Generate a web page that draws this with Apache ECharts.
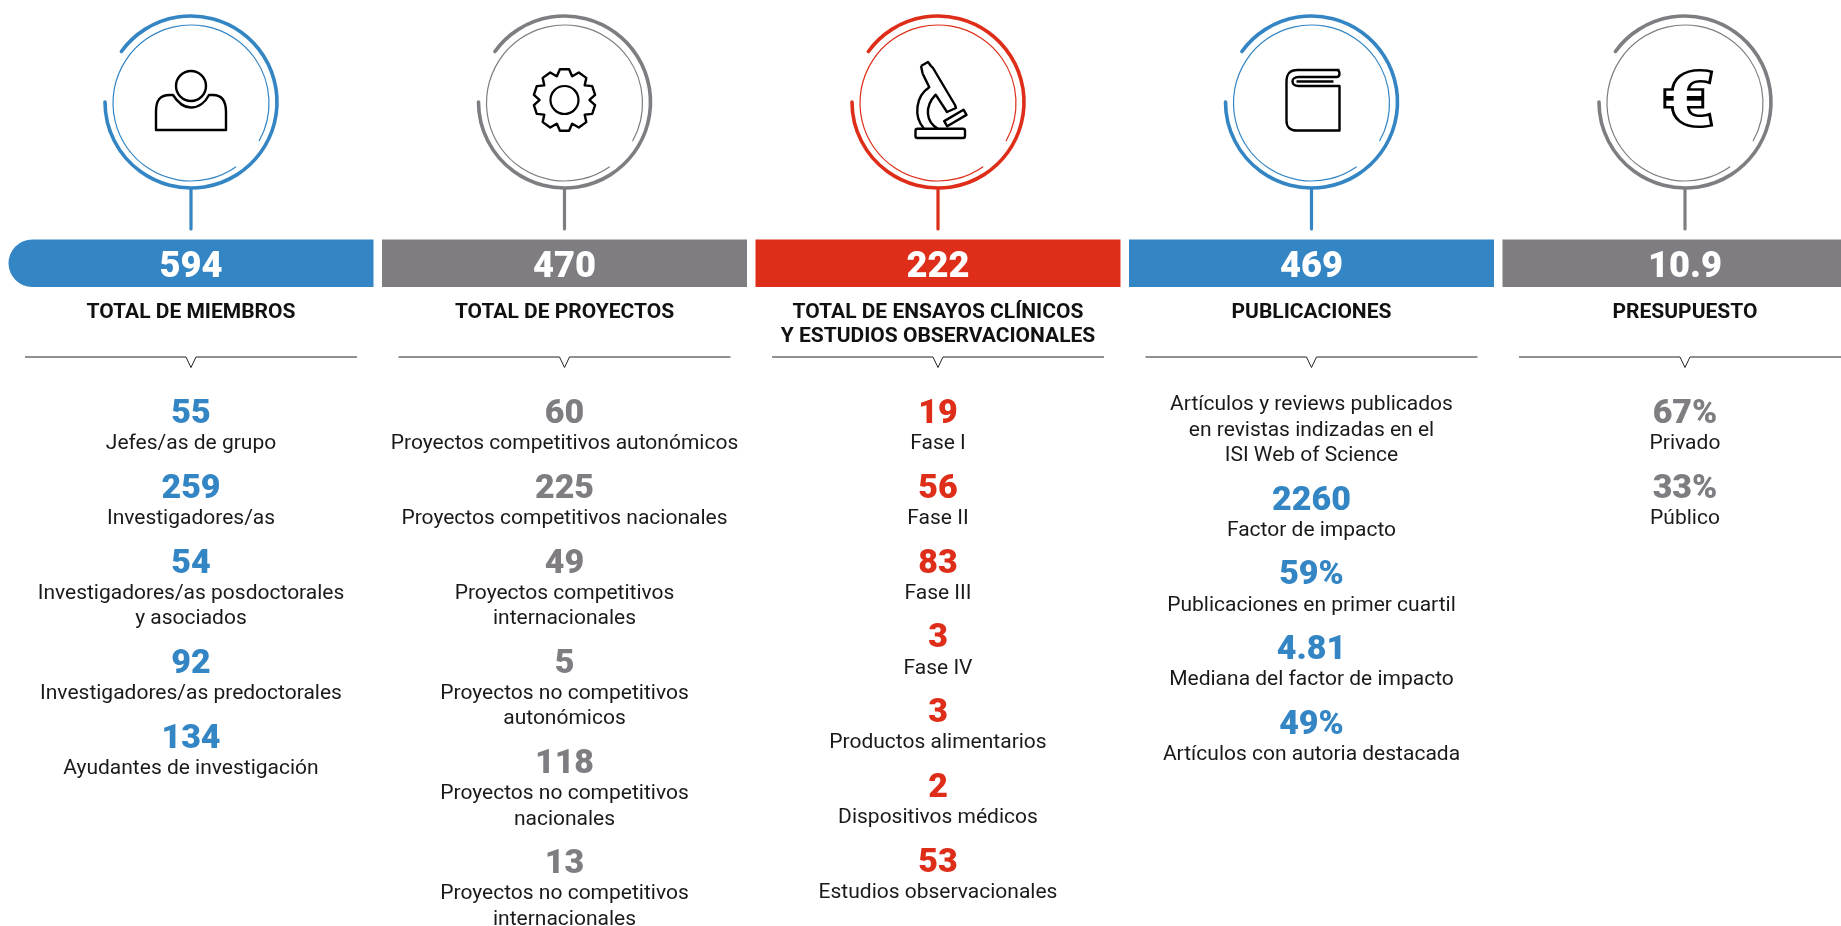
<!DOCTYPE html>
<html>
<head>
<meta charset="utf-8">
<title>Resumen</title>
<style>
  html, body { margin: 0; padding: 0; background: #fff; }
  #chart { width: 1841px; height: 926px; }
</style>
<script src="https://cdn.jsdelivr.net/npm/echarts@6/dist/echarts.min.js"></script>
</head>
<body>
<div id="chart"></div>
<script>
// datos
const panels = ['miembros', 'proyectos', 'ensayos', 'publicaciones', 'presupuesto'];
const totals = ['594', '470', '222', '469', '10.9'];
const titles = [
  ['TOTAL DE MIEMBROS'],
  ['TOTAL DE PROYECTOS'],
  ['TOTAL DE ENSAYOS CLÍNICOS', 'Y ESTUDIOS OBSERVACIONALES'],
  ['PUBLICACIONES'],
  ['PRESUPUESTO']
];

const memberValues = ['55', '259', '54', '92', '134'];
const memberLabels = [
  ['Jefes/as de grupo'],
  ['Investigadores/as'],
  ['Investigadores/as posdoctorales', 'y asociados'],
  ['Investigadores/as predoctorales'],
  ['Ayudantes de investigación']
];
const projectValues = ['60', '225', '49', '5', '118', '13'];
const projectLabels = [
  ['Proyectos competitivos autonómicos'],
  ['Proyectos competitivos nacionales'],
  ['Proyectos competitivos', 'internacionales'],
  ['Proyectos no competitivos', 'autonómicos'],
  ['Proyectos no competitivos', 'nacionales'],
  ['Proyectos no competitivos', 'internacionales']
];
const trialValues = ['19', '56', '83', '3', '3', '2', '53'];
const trialLabels = [
  ['Fase I'],
  ['Fase II'],
  ['Fase III'],
  ['Fase IV'],
  ['Productos alimentarios'],
  ['Dispositivos médicos'],
  ['Estudios observacionales']
];
const publicationValues = [null, '2260', '59%', '4.81', '49%'];
const publicationLabels = [
  ['Artículos y reviews publicados', 'en revistas indizadas en el', 'ISI Web of Science'],
  ['Factor de impacto'],
  ['Publicaciones en primer cuartil'],
  ['Mediana del factor de impacto'],
  ['Artículos con autoria destacada']
];
const budgetValues = ['67%', '33%'];
const budgetLabels = [['Privado'], ['Público']];

const allValues = [memberValues, projectValues, trialValues, publicationValues, budgetValues];
const allLabels = [memberLabels, projectLabels, trialLabels, publicationLabels, budgetLabels];

const blue = '#3385c4', grey = '#7f7d82', red = '#de2d18';
const panelColors = [blue, grey, red, blue, grey];
const FONT = 'Roboto';
const RAD = Math.PI / 180;

// iconos, coordenadas relativas al centro del círculo
function gearPath() {
  let d = '';
  const n = 10, rOut = 31, rIn = 25;
  for (let i = 0; i < n; i++) {
    const a = -Math.PI / 2 + i * 2 * Math.PI / n;
    const pts = [[rIn, -0.31], [rOut, -0.15], [rOut, 0.15], [rIn, 0.31]];
    pts.forEach(function (p, k) {
      const x = (p[0] * Math.cos(a + p[1])).toFixed(1);
      const y = (p[0] * Math.sin(a + p[1])).toFixed(1);
      d += (i === 0 && k === 0 ? 'M' : 'L') + x + ' ' + y + ' ';
    });
  }
  return d + 'Z';
}
const icons = [
  ['M-35 28 L-35 10 C-35 -2 -31 -7 -21 -7 L-18 -7 C-13 1 -7 5.5 0 5.5 C7 5.5 14 1 18 -7 L22 -7 C31 -7 35 -1 35 10 L35 28 Z'],
  [gearPath()],
  [
    'M-17 -36 L-10 -40 L-7 -36 L-5 -34 L17 3 L18 6 L9 10 L-2.3 -7.3 C-14 5 -12 20 0 26.7',
    'M-15.3 -28.3 L-8.7 -14.7 C-22 -6 -25 14 -14 26.7',
    'M-17 -36 L-15.3 -28.3',
    'M-20.5 26.7 L25 26.7 Q27 26.7 27 28.7 L27 34 Q27 36 25 36 L-20.5 36 Q-22.5 36 -22.5 34 L-22.5 28.7 Q-22.5 26.7 -20.5 26.7 Z',
    'M6.2 19.1 L25.5 7.7 L28.5 12.9 L9.2 24.3 Z'
  ],
  [
    'M28 -32 L-14 -32 C-22 -32 -25 -28 -25 -20 L-25 19 C-25 25 -21 28.5 -15 28.5 L28 28.5 L28 -16 L-13 -16 C-21 -16 -21 -25 -13 -25 L25 -25 C29 -25 29 -32 25 -32',
    'M-15 -20.5 L22 -20.5'
  ],
  []
];

function renderPanel(params, api) {
  const i = params.dataIndex;
  const cx = api.coord([i, 0])[0];
  const color = panelColors[i];
  const cy = 102;
  const kids = [];

  // anillos
  kids.push({
    type: 'arc',
    shape: { cx: cx, cy: cy, r: 86, startAngle: 216 * RAD, endAngle: 180 * RAD, clockwise: true },
    style: { fill: null, stroke: color, lineWidth: 3.6, lineCap: 'round' }
  });
  kids.push({
    type: 'arc',
    shape: { cx: cx, cy: cy + 1, r: 78, startAngle: 55 * RAD, endAngle: 29 * RAD, clockwise: true },
    style: { fill: null, stroke: color, lineWidth: 1.2, lineCap: 'round' }
  });
  // tallo
  kids.push({
    type: 'line',
    shape: { x1: cx, y1: 189, x2: cx, y2: 229 },
    style: { stroke: color, lineWidth: 3.2, lineCap: 'round' }
  });

  // icono
  if (i === 1) {
    kids.push({
      type: 'circle', x: cx, y: cy - 2, shape: { cx: 0, cy: 0, r: 14 },
      style: { fill: null, stroke: '#000', lineWidth: 2.2 }
    });
  }
  if (i === 0) {
    kids.push({
      type: 'circle', x: cx, y: cy - 16, shape: { cx: 0, cy: 0, r: 15 },
      style: { fill: null, stroke: '#000', lineWidth: 2.4 }
    });
  }
  icons[i].forEach(function (d) {
    kids.push({
      type: 'path',
      x: cx, y: i === 1 ? cy - 2 : cy,
      shape: { pathData: d },
      style: { fill: null, stroke: '#000', lineWidth: 2.4, lineJoin: 'round' }
    });
  });
  if (i === 4) {
    kids.push({
      type: 'text', x: cx + 3, y: cy + 4, scaleX: 1.2,
      style: {
        text: '€', font: 'bold 74px ' + FONT, fill: '#fff', stroke: '#000', lineWidth: 5,
        align: 'center', verticalAlign: 'middle'
      }
    });
  }

  // barra con el total
  kids.push({
    type: 'rect',
    shape: { x: cx - 182.5, y: 239.5, width: 365, height: 47.5, r: i === 0 ? [24, 0, 0, 24] : 0 },
    style: { fill: color }
  });
  kids.push({
    type: 'text', x: cx, y: 268, scaleX: 0.98,
    style: {
      text: totals[i], font: '900 37px ' + FONT, fill: '#fff',
      align: 'center', verticalAlign: 'middle'
    }
  });

  // titulo
  titles[i].forEach(function (t, k) {
    kids.push({
      type: 'text', x: cx, y: 313 + k * 23.5,
      style: {
        text: t, font: 'bold 21px ' + FONT, fill: '#111',
        align: 'center', verticalAlign: 'middle'
      }
    });
  });

  // separador con muesca
  kids.push({
    type: 'polyline',
    shape: { points: [[cx - 166, 357], [cx - 5, 357], [cx, 367.5], [cx + 5, 357], [cx + 166, 357]] },
    style: { fill: null, stroke: '#222', lineWidth: 1 }
  });

  // filas
  let y = 414.5;
  allLabels[i].forEach(function (lines, r) {
    const v = allValues[i][r];
    if (v === null) {
      y -= 39;
    } else {
      kids.push({
        type: 'text', x: cx, y: y,
        style: {
          text: v, font: '900 34px ' + FONT, fill: color,
          align: 'center', verticalAlign: 'middle'
        }
      });
    }
    y += 29.5;
    lines.forEach(function (l) {
      kids.push({
        type: 'text', x: cx, y: y,
        style: {
          text: l, font: '21px ' + FONT, fill: '#1a1a1a',
          align: 'center', verticalAlign: 'middle'
        }
      });
      y += 25.4;
    });
    y += 19.9;
  });

  return { type: 'group', children: kids };
}

const chart = echarts.init(document.getElementById('chart'));
chart.setOption({
  animation: false,
  backgroundColor: '#fff',
  grid: { left: 4.25, right: 0, top: 0, bottom: 0 },
  xAxis: { type: 'value', min: -0.5, max: 4.4177, show: false },
  yAxis: { type: 'value', min: 0, max: 1, show: false },
  series: [{
    type: 'custom',
    name: 'panels',
    clip: false,
    coordinateSystem: 'cartesian2d',
    renderItem: renderPanel,
    data: panels.map(function (p, i) { return [i, 0]; })
  }]
});
</script>
</body>
</html>
